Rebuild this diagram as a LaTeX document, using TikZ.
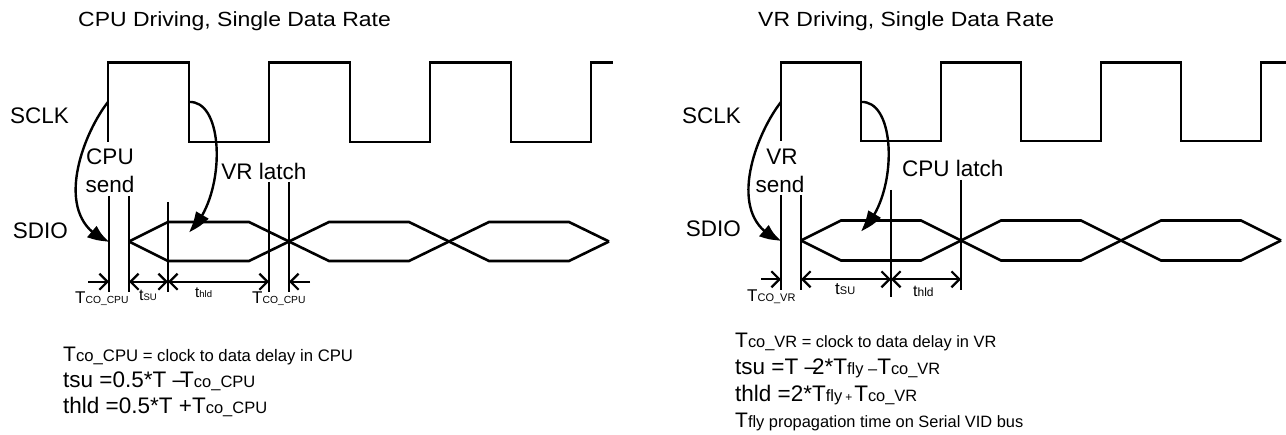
\documentclass[tikz,border=0pt]{standalone}
\usepackage{fontspec}
\setmainfont{Liberation Sans}
\usepackage{graphicx}
\usetikzlibrary{arrows.meta,bending}
\newcommand\fsz[1]{\fontsize{#1}{#1}\selectfont}
\begin{document}
\begin{tikzpicture}[x=1pt,y=-1pt,
  wave/.style={line width=2.6pt},
  tick/.style={line width=2.4pt},
  curvearrow/.style={line width=2.4pt,-{Triangle[length=21pt,width=14pt,bend]}},
  dimr/.style={line width=2.2pt,-{Straight Barb[length=8pt,width=16pt]}},
  dimb/.style={line width=2.2pt,{Straight Barb[length=8pt,width=16pt]}-{Straight Barb[length=8pt,width=16pt]}},
  lbl/.style={inner sep=0pt,font=\fsz{22.5}},
  txt/.style={inner sep=0pt,anchor=base west},
]
\useasboundingbox (0,0) rectangle (1286,435);

% ================= LEFT: CPU driving =================
\node[txt] (titleL) at (78,27) {\scalebox{1.12}[1]{\fsz{20.5}CPU Driving, Single Data Rate}};
\node[lbl,anchor=base east] (sclkL) at (69,124) {SCLK};
\node[lbl,anchor=base east] (sdioL) at (68,238.5) {SDIO};
\node[lbl,anchor=base] (cpuL) at (110,165) {CPU};
\node[lbl,anchor=base] (sendL) at (110,193) {send};
\node[lbl,anchor=base] (latchL) at (264,180) {VR latch};

% clock
\draw[wave] (108,142) -- (108,62.5) -- (189,62.5) -- (189,142) -- (269,142) -- (269,62.5)
  -- (350,62.5) -- (350,142) -- (430,142) -- (430,62.5) -- (511,62.5) -- (511,142)
  -- (591,142) -- (591,62.5) -- (613,62.5);
% data
\draw[wave] (129,241.5) -- (168,222) -- (249,222) -- (329,261) -- (409,261) -- (489,222) -- (569,222) -- (609,241.5);
\draw[wave] (129,241.5) -- (168,261) -- (249,261) -- (329,222) -- (409,222) -- (489,261) -- (569,261) -- (609,241.5);
% marker lines
\coordinate (l1t) at (109,196); \coordinate (l1b) at (109,292);
\coordinate (l2t) at (129,196); \coordinate (l2b) at (129,292);
\coordinate (l3t) at (168,202); \coordinate (l3b) at (168,292);
\coordinate (l4t) at (269,182); \coordinate (l4b) at (269,292);
\coordinate (l5t) at (289,182); \coordinate (l5b) at (289,292);
\foreach \n in {1,...,5} {\draw[tick] (l\n t) -- (l\n b);}
% curved arrows
\coordinate (riseL) at (108,102); \coordinate (sendtipL) at (109,241.5);
\coordinate (fallL) at (189,102); \coordinate (latchtipL) at (189,232);
\draw[curvearrow] (riseL) .. controls (82,135) and (50,220) .. (sendtipL);
\draw[curvearrow] (fallL) .. controls (226,100) and (226,200) .. (latchtipL);
% dimensions
\coordinate (da0) at (88,281.7); \coordinate (da1) at (109,281.7);
\coordinate (da2) at (129,281.7); \coordinate (da3) at (168,281.7);
\coordinate (da4) at (269,281.7); \coordinate (da5) at (289,281.7);
\coordinate (da6) at (310,281.7);
\draw[dimr] (da0) -- (da1);
\draw[dimb] (da2) -- (da3);
\draw[dimb] (da3) -- (da4);
\draw[dimr] (da6) -- (da5);
\node[txt] (tcoL1) at (75,304) {\fsz{17}T\fsz{10.3}CO\textunderscore CPU};
\node[txt] (tsuL) at (139,300.5) {\fsz{16}t\fsz{9.5}SU};
\node[txt] (thldL) at (195,298) {\fsz{15}t\fsz{9.5}hld};
\node[txt] (tcoL2) at (252,304) {\fsz{17}T\fsz{10.3}CO\textunderscore CPU};
% formulas
\node[txt] (fL1) at (63,362) {\fsz{21}T\fsz{16.7}co\textunderscore CPU = clock to data delay in CPU};
\node[txt] (fL2) at (63,388) {\fsz{22.5}tsu =0.5*T –\kern-.22em T\fsz{16.5}co\textunderscore CPU};
\node[txt] (fL3) at (63,414) {\fsz{22.5}thld =0.5*T +T\fsz{16.5}co\textunderscore CPU};

% ================= RIGHT: VR driving =================
\node[txt] (titleR) at (758,27) {\scalebox{1.12}[1]{\fsz{20.5}VR Driving, Single Data Rate}};
\node[lbl,anchor=base east] (sclkR) at (741,124) {SCLK};
\node[lbl,anchor=base east] (sdioR) at (741,236.5) {SDIO};
\node[lbl,anchor=base] (vrR) at (782,165) {VR};
\node[lbl,anchor=base] (sendR) at (780,193) {send};
\node[lbl,anchor=base west] (latchR) at (902,177) {CPU latch};

\draw[wave] (781,141) -- (781,62.5) -- (861,62.5) -- (861,141) -- (941,141) -- (941,62.5)
  -- (1021,62.5) -- (1021,141) -- (1101,141) -- (1101,62.5) -- (1181,62.5) -- (1181,141)
  -- (1261,141) -- (1261,62.5) -- (1286,62.5);
\draw[wave] (801,240.5) -- (841,220.5) -- (921,220.5) -- (1001,260.5) -- (1081,260.5) -- (1161,220.5) -- (1241,220.5) -- (1281,240.5);
\draw[wave] (801,240.5) -- (841,260.5) -- (921,260.5) -- (1001,220.5) -- (1081,220.5) -- (1161,260.5) -- (1241,260.5) -- (1281,240.5);
\coordinate (r1t) at (781,195); \coordinate (r1b) at (781,290);
\coordinate (r2t) at (801,195); \coordinate (r2b) at (801,290);
\coordinate (r3t) at (891,190); \coordinate (r3b) at (891,297);
\coordinate (r4t) at (961,180); \coordinate (r4b) at (961,290);
\foreach \n in {1,...,4} {\draw[tick] (r\n t) -- (r\n b);}
\coordinate (riseR) at (781,102); \coordinate (sendtipR) at (781,240.5);
\coordinate (fallR) at (861,102); \coordinate (latchtipR) at (861,231);
\draw[curvearrow] (riseR) .. controls (755,135) and (723,220) .. (sendtipR);
\draw[curvearrow] (fallR) .. controls (898,100) and (898,200) .. (latchtipR);
\coordinate (db0) at (761,279.3); \coordinate (db1) at (781,279.3);
\coordinate (db2) at (801,279.3); \coordinate (db3) at (891,279.3);
\coordinate (db4) at (961,279.3);
\draw[dimr] (db0) -- (db1);
\draw[dimb] (db2) -- (db3);
\draw[dimb] (db3) -- (db4);
\node[txt] (tcoR) at (747,301.5) {\fsz{17}T\fsz{11}CO\textunderscore VR};
\node[txt] (tsuR) at (835,295) {\fsz{17}t\fsz{11}SU};
\node[txt] (thldR) at (913,297) {\fsz{16}t\fsz{12}hld};
\node[txt] (fR1) at (735,348) {\fsz{21}T\fsz{16.4}co\textunderscore VR = clock to data delay in VR};
\node[txt] (fR2) at (735,375) {\fsz{22.5}tsu =T –\kern-.22em 2*T\fsz{16.4}fly –\fsz{22.5}T\fsz{16.4}co\textunderscore VR};
\node[txt] (fR3) at (735,402) {\fsz{22.5}thld =2*T\fsz{16.4}fly\kern3pt{\fsz{12}+}\kern2pt\fsz{22.5}T\fsz{16.4}co\textunderscore VR};
\node[txt] (fR4) at (735,428) {\fsz{21}T\fsz{16.4}fly propagation time on Serial VID bus};
\end{tikzpicture}
\end{document}
